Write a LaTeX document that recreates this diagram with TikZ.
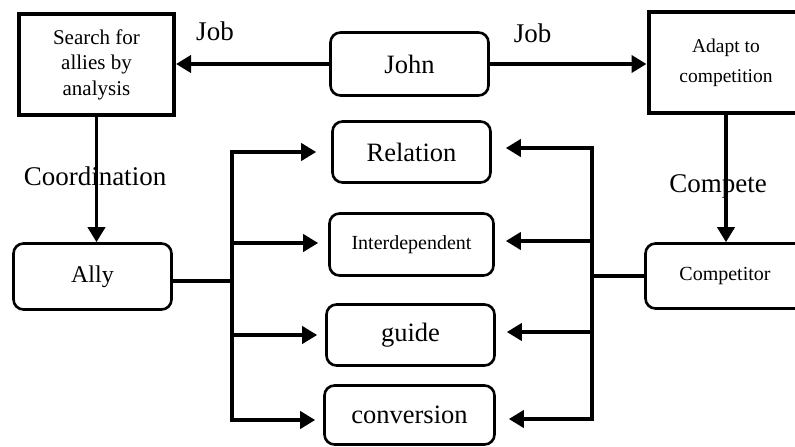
\documentclass[tikz,border=0pt]{standalone}
\usepackage{fontspec}
\setmainfont{Liberation Serif}
\usetikzlibrary{arrows.meta,calc}
\begin{document}
\begin{tikzpicture}[x=1pt,y=-1pt,
  sqbox/.style={draw, line width=4pt, inner sep=0pt, align=center},
  rbox/.style={draw, line width=2.6pt, rounded corners=10pt, inner sep=0pt, align=center},
  arr/.style={line width=3.8pt, -{Triangle[length=15pt,width=17pt]}},
  ln/.style={line width=3.8pt},
  lbl/.style={inner sep=0pt, font=\fontsize{27}{30}\selectfont},
  big/.style={font=\fontsize{26.5}{30}\selectfont},
  small/.style={font=\fontsize{20}{24}\selectfont}]
\useasboundingbox (0,0) rectangle (795,447);
\clip (0,0) rectangle (795,447);

% nodes
\node[sqbox, minimum width=155pt, minimum height=101pt, font=\fontsize{21}{25.5}\selectfont] (search) at (96.5,64.5) {Search for\\allies by\\analysis};
\node[rbox, big, minimum width=158pt, minimum height=63pt] (john) at (409.5,64) {John};
\node[sqbox, minimum width=155pt, minimum height=101pt, font=\fontsize{19.5}{30}\selectfont] (adapt) at (726,62.5) {Adapt to\\competition};
\node[rbox, big, minimum width=158pt, minimum height=61pt] (rel) at (411.5,152) {Relation};
\node[rbox, small, minimum width=164pt, minimum height=62pt] (inter) at (411.5,244.5) {Interdependent};
\node[rbox, big, minimum width=168pt, minimum height=61pt] (guide) at (410.5,335) {guide};
\node[rbox, big, minimum width=170pt, minimum height=59pt] (conv) at (409.5,415) {conversion};
\node[rbox, font=\fontsize{24}{28}\selectfont, minimum width=158pt, minimum height=66pt] (ally) at (92.5,276.5) {Ally};
\node[rbox, small, minimum width=159pt, minimum height=65pt] (comp) at (725,276) {Competitor};

% labels
\node[lbl] (job1) at (215,31) {Job};
\node[lbl] (job2) at (532.5,33) {Job};
\node[lbl] (coord) at (95,176.5) {Coordination};
\node[lbl] (compete) at (718,186) {Compete};

% top arrows
\draw[arr] (john.west) -- (john.west -| search.east);
\draw[arr] (john.east) -- (john.east -| adapt.west);
\draw[arr] (search.south) -- (search.south |- ally.north);
\draw[arr] (adapt.south) -- (adapt.south |- comp.north);

% left bus
\coordinate (lt) at (232,150.2);
\coordinate (lb) at (232,421.8);
\coordinate (l1) at (232,152);
\coordinate (l2) at (232,243);
\coordinate (l3) at (232,335);
\coordinate (l4) at (232,420);
\draw[ln] (lt) -- (lb);
\draw[ln] ([yshift=-4.5pt]ally.east) -- ([yshift=-4.5pt]ally.east -| lt);
\draw[arr, shorten >=15pt] (l1) -- (l1 -| rel.west);
\draw[arr, shorten >=10pt] (l2) -- (l2 -| inter.west);
\draw[arr, shorten >=8pt] (l3) -- (l3 -| guide.west);
\draw[arr, shorten >=8pt] (l4) -- (l4 -| conv.west);

% right bus
\coordinate (rt) at (592,146.2);
\coordinate (rb) at (592,420.8);
\coordinate (r1) at (592,148);
\coordinate (r2) at (592,241);
\coordinate (r3) at (592,332);
\coordinate (r4) at (592,419);
\draw[ln] (rt) -- (rb);
\draw[ln] (comp.west) -- (comp.west -| rt);
\draw[arr, shorten >=14pt] (r1) -- (r1 -| rel.east);
\draw[arr, shorten >=11pt] (r2) -- (r2 -| inter.east);
\draw[arr, shorten >=11pt] (r3) -- (r3 -| guide.east);
\draw[arr, shorten >=13pt] (r4) -- (r4 -| conv.east);
\end{tikzpicture}
\end{document}
